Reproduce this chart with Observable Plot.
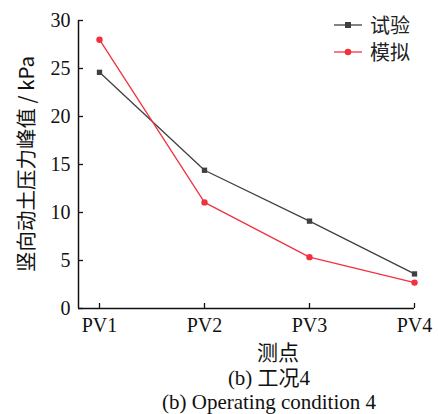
<!DOCTYPE html>
<html><head><meta charset="utf-8">
<script src="https://cdn.jsdelivr.net/npm/d3@7"></script>
<script src="https://cdn.jsdelivr.net/npm/@observablehq/plot@0.6"></script>
<style>
body{margin:0;background:#fff;font-family:"Liberation Serif","Noto Sans CJK SC",serif;}
#wrap{position:relative;width:438px;height:414px;}
.cap{position:absolute;left:0;width:438px;text-align:center;font-size:21px;line-height:24px;color:#111;}
#xlabel{position:absolute;left:0;width:556px;text-align:center;top:339px;font-size:21px;line-height:24px;color:#111;font-family:"Noto Sans CJK SC",sans-serif;}
#ylabel{position:absolute;left:25px;top:164px;transform:translate(-50%,-50%) rotate(-90deg);white-space:nowrap;font-size:20.5px;color:#111;font-family:"Noto Sans CJK SC",sans-serif;}
#legend{position:absolute;left:334px;top:11px;font-family:"Noto Sans CJK SC",sans-serif;font-size:20px;color:#222;}
#legend div{display:flex;align-items:center;height:27px;}
#legend svg{margin-right:8px;}
</style></head>
<body><div id="wrap"></div>
<script>
const categories = ["PV1", "PV2", "PV3", "PV4"];
const testValues = [24.6, 14.4, 9.1, 3.6];
const simValues = [28.0, 11.05, 5.35, 2.7];
const seriesNames = ["试验", "模拟"];
const seriesColors = ["#404040", "#f0323f"];
const yTicks = [0, 5, 10, 15, 20, 25, 30];
const yLabel = "竖向动土压力峰值 / kPa";
const xLabel = "测点";
const captions = ["(b) 工况4", "(b) Operating condition 4"];

const rows = [];
categories.forEach((c, i) => {
  rows.push({x: i + 1, v: testValues[i], s: seriesNames[0]});
  rows.push({x: i + 1, v: simValues[i], s: seriesNames[1]});
});
const testRows = rows.filter(d => d.s === seriesNames[0]);
const simRows = rows.filter(d => d.s === seriesNames[1]);

const chart = Plot.plot({
  width: 438, height: 338,
  marginLeft: 78, marginRight: 24, marginTop: 20, marginBottom: 30,
  style: {fontFamily: "'Liberation Serif','Noto Sans CJK SC',serif", fontSize: "20px", color: "#111", background: "#fff"},
  x: {domain: [0.8, 4], axis: null},
  y: {domain: [0, 30], axis: null},
  marks: [
    Plot.axisY({ticks: yTicks, tickSize: -5, tickPadding: 13, tickFormat: d => d, stroke: "#111", strokeWidth: 1.3,
      label: null, fontSize: 20}),
    Plot.axisX({ticks: categories.map((c, i) => i + 1), tickSize: -5, tickPadding: 14, tickFormat: d => categories[d - 1],
      stroke: "#111", strokeWidth: 1.3, label: null, fontSize: 20}),
    Plot.ruleX([0.8], {y1: 0, y2: 30, stroke: "#111", strokeWidth: 1.5}),
    Plot.ruleY([0], {x1: 0.8, x2: 4, stroke: "#111", strokeWidth: 1.5}),
    Plot.line(testRows, {x: "x", y: "v", stroke: seriesColors[0], strokeWidth: 1.3}),
    Plot.line(simRows, {x: "x", y: "v", stroke: seriesColors[1], strokeWidth: 1.3}),
    Plot.dot(testRows, {x: "x", y: "v", symbol: "square", r: 3, fill: seriesColors[0], stroke: "none"}),
    Plot.dot(simRows, {x: "x", y: "v", symbol: "circle", r: 3.2, fill: seriesColors[1], stroke: "none"})
  ]
});
const wrap = document.getElementById("wrap");
wrap.appendChild(chart);

const yl = document.createElement("div"); yl.id = "ylabel"; yl.textContent = yLabel; wrap.appendChild(yl);
const xl = document.createElement("div"); xl.id = "xlabel"; xl.textContent = xLabel; wrap.appendChild(xl);

const legend = document.createElement("div");
legend.id = "legend";
seriesNames.forEach((n, i) => {
  const row = document.createElement("div");
  const mk = i === 0 ? `<rect x="11" y="4" width="6" height="6" fill="${seriesColors[i]}"/>` : `<circle cx="14" cy="7" r="3.3" fill="${seriesColors[i]}"/>`;
  row.innerHTML = `<svg width="28" height="14"><line x1="0" y1="7" x2="28" y2="7" stroke="${seriesColors[i]}" stroke-width="1.3"/>${mk}</svg><span>${n}</span>`;
  legend.appendChild(row);
});
wrap.appendChild(legend);

captions.forEach((t, i) => {
  const c = document.createElement("div");
  c.className = "cap";
  c.style.left = "50px";
  c.style.top = (i === 0 ? 366 : 390) + "px";
  c.textContent = t;
  wrap.appendChild(c);
});
</script></body></html>
